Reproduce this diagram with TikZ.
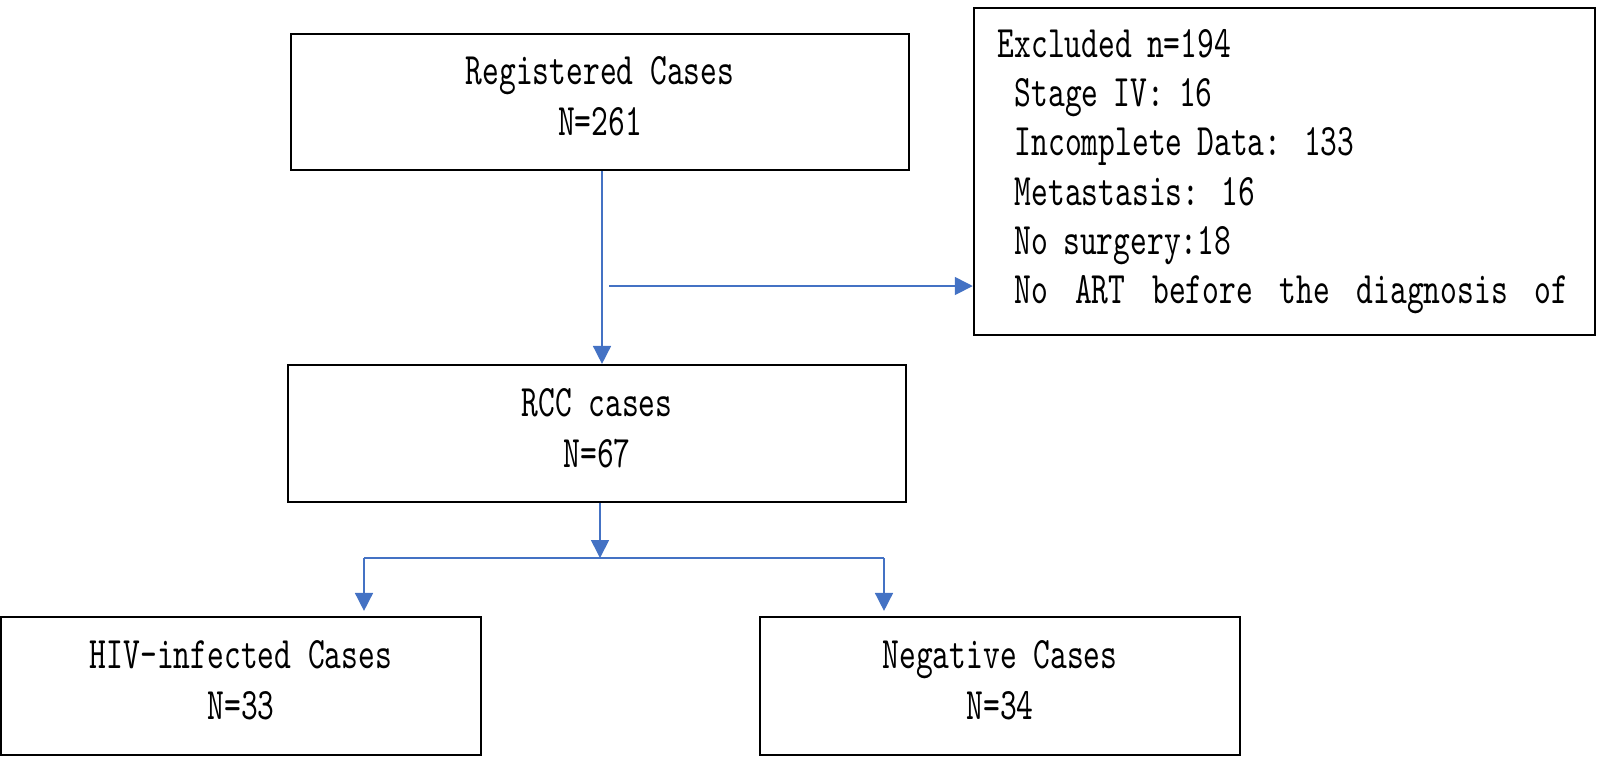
\documentclass[tikz,border=0pt]{standalone}
\usepackage{fontspec}
\setmainfont{lmmono10-regular.otf}[FakeStretch=0.71]
\usetikzlibrary{arrows.meta}
\definecolor{flowblue}{HTML}{4472C4}
\tikzset{
  box/.style={draw, line width=0.6pt, align=center, inner sep=0pt,
    font=\fontsize{12.8}{14.5}\selectfont},
  flow/.style={draw=flowblue, line width=0.45pt,
    -{Triangle[length=0.18cm,width=0.18cm]}},
}
\newcommand{\lift}{\rule[-0.12cm]{0pt}{0pt}}
\begin{document}
\begin{tikzpicture}[x=0.01cm, y=-0.01cm]
  \useasboundingbox (0,0) rectangle (1600,756);
  % boxes, placed in pixel coordinates of the plan
  \node[box, minimum width=6.18cm, minimum height=1.36cm] (reg) at (600, 102)
    {Registered Cases\\N=261\lift};
  \node[box, minimum width=6.21cm, minimum height=3.27cm, align=left,
    text width=5.73cm, font=\fontsize{12.8}{14}\selectfont] (excl) at (1284.5, 171.5)
    {Excluded n=194\\
     \hspace{0.17cm}Stage IV: 16\\
     \hspace{0.17cm}Incomplete Data: 133\\
     \hspace{0.17cm}Metastasis: 16\\
     \hspace{0.17cm}No surgery:18\\
     \hspace{0.17cm}\makebox[5.53cm][l]{No\hfill ART\hfill before\hfill the\hfill diagnosis\hfill of}};
  \node[box, minimum width=6.18cm, minimum height=1.37cm] (rcc) at (597, 433.5)
    {RCC cases\\N=67\lift};
  \node[box, minimum width=4.8cm, minimum height=1.38cm] (hiv) at (241, 686)
    {HIV-infected Cases\\N=33\lift};
  \node[box, minimum width=4.8cm, minimum height=1.38cm] (neg) at (1000, 686)
    {Negative Cases\\N=34\lift};

  % branch points
  \coordinate (excout) at (609, 286);
  \coordinate (split) at (600, 558);
  \coordinate (lsplit) at (364, 558);
  \coordinate (rsplit) at (884, 558);

  \draw[flow] ([xshift=0.02cm]reg.south) -- ([xshift=0.02cm]reg.south |- rcc.north);
  \draw[flow] (excout) -- (excout -| excl.west);
  \draw[flow] ([xshift=0.03cm]rcc.south) -- ([xshift=0.03cm]rcc.south |- split);
  \draw[draw=flowblue, line width=0.45pt] (lsplit) -- (rsplit);
  \draw[flow, shorten >=0.05cm] (lsplit) -- (lsplit |- hiv.north);
  \draw[flow, shorten >=0.05cm] (rsplit) -- (rsplit |- neg.north);
\end{tikzpicture}
\end{document}
